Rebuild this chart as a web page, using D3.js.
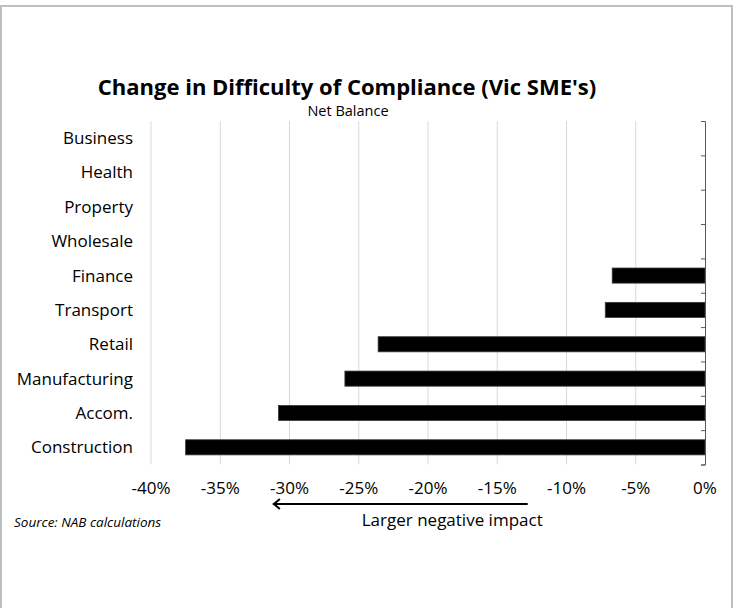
<!DOCTYPE html>
<html>
<head>
<meta charset="utf-8">
<script src="https://cdn.jsdelivr.net/npm/d3@7"></script>
<style>
  body { margin: 0; background: #fff; }
  text { font-family: "Open Sans", "Noto Sans", sans-serif; fill: #000; }
</style>
</head>
<body>
<script>
// chart data
const categories = ["Business", "Health", "Property", "Wholesale", "Finance",
  "Transport", "Retail", "Manufacturing", "Accom.", "Construction"];
const netBalance = [0, 0, 0, 0, -0.067, -0.072, -0.236, -0.26, -0.308, -0.375];
const tickValues = [-0.40, -0.35, -0.30, -0.25, -0.20, -0.15, -0.10, -0.05, 0];
const tickLabels = ["-40%", "-35%", "-30%", "-25%", "-20%", "-15%", "-10%", "-5%", "0%"];
const arrowSpan = [-0.128, -0.312];

const width = 740;
const height = 608;
const plot = { left: 151, right: 705, top: 121, bottom: 464.5 };

const svg = d3.select('body')
  .append('svg')
  .attr('width', width)
  .attr('height', height);

svg.append('rect')
  .attr('width', width)
  .attr('height', height)
  .attr('fill', '#fff');

// chart frame (bottom edge is outside the picture)
svg.append('rect')
  .attr('x', 1)
  .attr('y', 6)
  .attr('width', 731)
  .attr('height', 640)
  .attr('fill', 'none')
  .attr('stroke', '#bfbfbf')
  .attr('stroke-width', 2);

// scales
const x = d3.scaleLinear()
  .domain([-0.40, 0])
  .range([plot.left, plot.right]);

const y = d3.scaleBand()
  .domain(categories)
  .range([plot.top, plot.bottom])
  .paddingInner(0.56)
  .paddingOuter(0.28);

// vertical gridlines
svg.append('g')
  .selectAll('line')
  .data(tickValues.filter(d => d < 0))
  .enter()
  .append('line')
  .attr('x1', d => x(d))
  .attr('x2', d => x(d))
  .attr('y1', plot.top)
  .attr('y2', plot.bottom)
  .attr('stroke', '#d9d9d9')
  .attr('stroke-width', 1);

// bars
svg.append('g')
  .selectAll('rect')
  .data(categories)
  .enter()
  .append('rect')
  .attr('x', (d, i) => x(Math.min(0, netBalance[i])))
  .attr('y', d => y(d))
  .attr('width', (d, i) => Math.abs(x(netBalance[i]) - x(0)))
  .attr('height', y.bandwidth())
  .attr('fill', '#000')
  .attr('stroke', (d, i) => netBalance[i] ? '#3a3a3a' : 'none')
  .attr('stroke-width', 0.8);

// category axis sitting at 0%, ticks at band edges
const edges = d3.scaleLinear()
  .domain([0, categories.length])
  .range([plot.top, plot.bottom]);

const catAxis = svg.append('g')
  .attr('transform', `translate(${x(0)},0)`)
  .call(d3.axisLeft(edges).ticks(categories.length).tickSize(4).tickSizeOuter(4).tickFormat(''));
catAxis.selectAll('path, line').attr('stroke', '#595959');

// category labels
svg.append('g')
  .selectAll('text')
  .data(categories)
  .enter()
  .append('text')
  .attr('x', 133)
  .attr('y', d => y(d) + y.bandwidth() / 2)
  .attr('dy', '0.35em')
  .attr('text-anchor', 'end')
  .style('font-size', '17px')
  .text(d => d);

// value axis labels
svg.append('g')
  .selectAll('text')
  .data(tickValues)
  .enter()
  .append('text')
  .attr('x', d => x(d))
  .attr('y', 494)
  .attr('text-anchor', 'middle')
  .style('font-size', '17px')
  .text((d, i) => tickLabels[i]);

// titles
svg.append('text')
  .attr('x', 347)
  .attr('y', 94.5)
  .attr('text-anchor', 'middle')
  .style('font-size', '22px')
  .style('font-weight', 700)
  .text("Change in Difficulty of Compliance (Vic SME's)");

svg.append('text')
  .attr('x', 348)
  .attr('y', 115.5)
  .attr('text-anchor', 'middle')
  .style('font-size', '14.5px')
  .text('Net Balance');

// arrow annotation
const arrowY = 504;
svg.append('line')
  .attr('x1', x(arrowSpan[0]))
  .attr('x2', x(arrowSpan[1]))
  .attr('y1', arrowY)
  .attr('y2', arrowY)
  .attr('stroke', '#000')
  .attr('stroke-width', 2);

svg.append('path')
  .attr('d', `M${x(arrowSpan[1]) + 7},${arrowY - 5} L${x(arrowSpan[1]) + 1},${arrowY} L${x(arrowSpan[1]) + 7},${arrowY + 5}`)
  .attr('fill', 'none')
  .attr('stroke', '#000')
  .attr('stroke-width', 2);

svg.append('text')
  .attr('x', x(-0.1825))
  .attr('y', 526)
  .attr('text-anchor', 'middle')
  .style('font-size', '17px')
  .text('Larger negative impact');

svg.append('text')
  .attr('x', 14)
  .attr('y', 527)
  .style('font-size', '13.5px')
  .style('font-style', 'italic')
  .text('Source: NAB calculations');
</script>
</body>
</html>
